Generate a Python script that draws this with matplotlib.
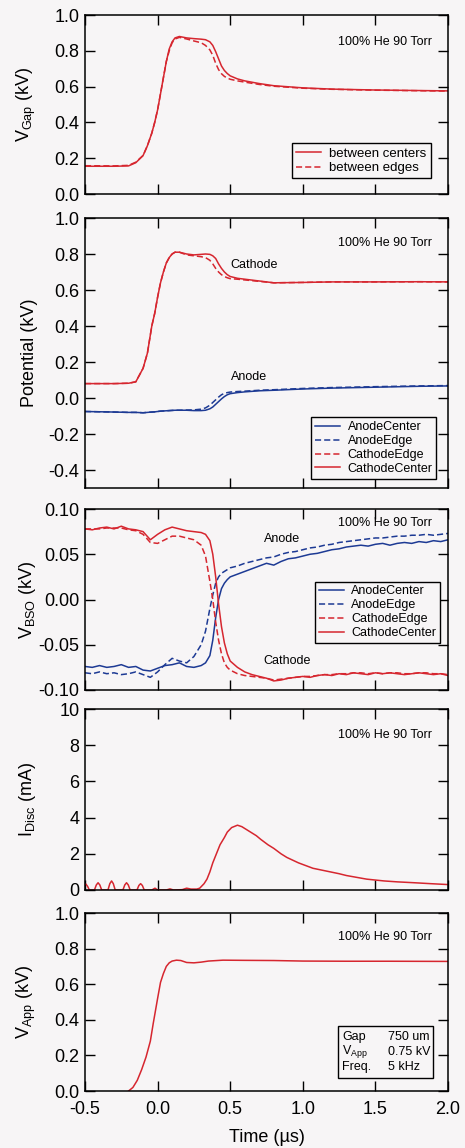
import matplotlib
matplotlib.use("Agg")
import matplotlib.pyplot as plt
from matplotlib.patches import Rectangle

plt.rcParams['font.family'] = ['Liberation Sans', 'DejaVu Sans']
plt.rcParams['mathtext.fontset'] = 'custom'
plt.rcParams['mathtext.rm'] = 'Liberation Sans'
plt.rcParams['mathtext.it'] = 'Liberation Sans'
plt.rcParams['mathtext.default'] = 'regular'
plt.rcParams['axes.unicode_minus'] = False

RED = '#d6262f'
BLUE = '#1d3a94'
BG = '#f7f5f6'

# ---- panel 1 / 2 shared time grid (us)
t_gap = [-0.5, -0.3, -0.2, -0.15, -0.1, -0.07, -0.04, -0.02, 0.0, 0.02, 0.04, 0.06,
         0.08, 0.1, 0.12, 0.15, 0.2, 0.25, 0.3, 0.33, 0.36, 0.38, 0.4, 0.42, 0.44,
         0.46, 0.48, 0.5, 0.55, 0.6, 0.7, 0.8, 1.0, 1.2, 1.5, 1.8, 2.0]
gap_center = [0.155, 0.155, 0.157, 0.175, 0.215, 0.27, 0.34, 0.40, 0.47, 0.56, 0.65, 0.74,
              0.81, 0.85, 0.872, 0.88, 0.872, 0.868, 0.865, 0.862, 0.85, 0.83, 0.795, 0.755,
              0.715, 0.69, 0.673, 0.66, 0.643, 0.632, 0.617, 0.605, 0.593, 0.586, 0.581,
              0.578, 0.576]
gap_edge = [0.158, 0.157, 0.16, 0.178, 0.215, 0.27, 0.34, 0.40, 0.47, 0.56, 0.65, 0.74,
            0.80, 0.845, 0.866, 0.875, 0.866, 0.855, 0.845, 0.83, 0.805, 0.775, 0.73, 0.695,
            0.672, 0.657, 0.648, 0.641, 0.632, 0.625, 0.612, 0.602, 0.591, 0.585, 0.58,
            0.577, 0.575]

cath_center = [0.08, 0.08, 0.082, 0.09, 0.165, 0.25, 0.40, 0.47, 0.56, 0.64, 0.70, 0.75,
               0.78, 0.80, 0.81, 0.81, 0.80, 0.795, 0.798, 0.80, 0.798, 0.79, 0.775, 0.745,
               0.72, 0.70, 0.685, 0.675, 0.665, 0.66, 0.65, 0.64, 0.642, 0.645, 0.645,
               0.646, 0.645]
cath_edge = [0.08, 0.08, 0.082, 0.09, 0.165, 0.25, 0.40, 0.47, 0.56, 0.64, 0.70, 0.75,
             0.78, 0.80, 0.81, 0.81, 0.795, 0.79, 0.785, 0.78, 0.765, 0.745, 0.72, 0.70,
             0.685, 0.675, 0.668, 0.663, 0.66, 0.656, 0.648, 0.64, 0.642, 0.645, 0.645,
             0.646, 0.645]
anode_center = [-0.075, -0.078, -0.08, -0.08, -0.082, -0.08, -0.078, -0.077, -0.075, -0.073,
                -0.072, -0.071, -0.07, -0.069, -0.068, -0.068, -0.068, -0.07, -0.07, -0.068,
                -0.06, -0.05, -0.035, -0.02, -0.005, 0.008, 0.018, 0.024, 0.03, 0.034, 0.04,
                0.043, 0.05, 0.055, 0.06, 0.065, 0.067]
anode_edge = [-0.075, -0.078, -0.08, -0.08, -0.082, -0.08, -0.078, -0.077, -0.075, -0.073,
              -0.072, -0.071, -0.07, -0.069, -0.068, -0.068, -0.067, -0.066, -0.062, -0.055,
              -0.04, -0.025, -0.01, 0.005, 0.018, 0.026, 0.03, 0.033, 0.036, 0.038, 0.043,
              0.046, 0.053, 0.058, 0.063, 0.067, 0.069]

# ---- panel 3: V_BSO
t_bso = [-0.5, -0.45, -0.4, -0.35, -0.3, -0.25, -0.2, -0.15, -0.1, -0.05, 0.0, 0.05, 0.1,
         0.15, 0.2, 0.25, 0.3, 0.33, 0.36, 0.38, 0.4, 0.42, 0.44, 0.46, 0.48, 0.5, 0.55,
         0.6, 0.65, 0.7, 0.75, 0.8, 0.85, 0.9, 0.95, 1.0, 1.05, 1.1, 1.15, 1.2, 1.25, 1.3,
         1.35, 1.4, 1.45, 1.5, 1.55, 1.6, 1.65, 1.7, 1.75, 1.8, 1.85, 1.9, 1.95, 2.0]
bso_anode_center = [-0.074, -0.075, -0.073, -0.075, -0.074, -0.072, -0.075, -0.074, -0.078,
                    -0.079, -0.076, -0.073, -0.072, -0.070, -0.074, -0.075, -0.073, -0.070,
                    -0.062, -0.045, -0.020, 0.000, 0.012, 0.018, 0.022, 0.025, 0.028, 0.031,
                    0.034, 0.037, 0.040, 0.038, 0.042, 0.045, 0.046, 0.048, 0.050, 0.051,
                    0.053, 0.055, 0.056, 0.058, 0.059, 0.060, 0.059, 0.061, 0.062, 0.060,
                    0.062, 0.063, 0.062, 0.064, 0.063, 0.065, 0.064, 0.066]
bso_anode_edge = [-0.081, -0.082, -0.080, -0.082, -0.081, -0.083, -0.082, -0.080, -0.083,
                  -0.086, -0.080, -0.072, -0.065, -0.068, -0.070, -0.063, -0.050, -0.035,
                  -0.010, 0.005, 0.018, 0.025, 0.029, 0.031, 0.033, 0.035, 0.037, 0.040,
                  0.042, 0.044, 0.046, 0.047, 0.050, 0.052, 0.053, 0.055, 0.057, 0.058,
                  0.060, 0.061, 0.063, 0.064, 0.065, 0.066, 0.067, 0.068, 0.068, 0.069,
                  0.070, 0.070, 0.071, 0.071, 0.072, 0.071, 0.072, 0.073]
bso_cath_edge = [0.078, 0.078, 0.078, 0.079, 0.079, 0.079, 0.077, 0.076, 0.072, 0.063,
                 0.062, 0.066, 0.070, 0.070, 0.068, 0.066, 0.060, 0.048, 0.020, 0.000,
                 -0.025, -0.045, -0.060, -0.070, -0.075, -0.078, -0.082, -0.084, -0.085,
                 -0.086, -0.087, -0.089, -0.088, -0.087, -0.086, -0.085, -0.085, -0.084,
                 -0.083, -0.083, -0.082, -0.082, -0.081, -0.081, -0.082, -0.081, -0.082,
                 -0.081, -0.081, -0.082, -0.082, -0.081, -0.081, -0.082, -0.082, -0.083]
bso_cath_center = [0.078, 0.077, 0.079, 0.080, 0.078, 0.081, 0.078, 0.077, 0.075, 0.066,
                   0.072, 0.077, 0.080, 0.078, 0.076, 0.075, 0.074, 0.072, 0.065, 0.050,
                   0.025, -0.005, -0.030, -0.048, -0.060, -0.068, -0.075, -0.080, -0.083,
                   -0.085, -0.087, -0.090, -0.089, -0.087, -0.086, -0.085, -0.086, -0.084,
                   -0.083, -0.084, -0.082, -0.083, -0.081, -0.082, -0.083, -0.081, -0.082,
                   -0.081, -0.082, -0.083, -0.082, -0.081, -0.082, -0.083, -0.082, -0.084]

# ---- panel 4: discharge current (mA)
t_disc = [-0.5, -0.494, -0.482, -0.47, -0.435, -0.422, -0.41, -0.398, -0.385, -0.342,
          -0.329, -0.317, -0.305, -0.292, -0.239, -0.226, -0.214, -0.202, -0.189, -0.142,
          -0.129, -0.117, -0.105, -0.092, -0.04, -0.018, 0.0, 0.06, 0.085, 0.11, 0.17,
          0.2, 0.23, 0.27, 0.29, 0.32, 0.34, 0.36, 0.38, 0.41, 0.43, 0.46, 0.48, 0.51,
          0.55, 0.58, 0.61, 0.64, 0.68, 0.71, 0.76, 0.80, 0.85, 0.89, 0.93, 0.97, 1.02,
          1.07, 1.13, 1.19, 1.25, 1.30, 1.37, 1.44, 1.50, 1.56, 1.65, 1.77, 1.88, 2.0]
i_disc = [0.3, 0.33, 0.2, 0.0, 0.0, 0.28, 0.4, 0.28, 0.0, 0.0,
          0.35, 0.5, 0.35, 0.0, 0.0, 0.28, 0.4, 0.28, 0.0, 0.0,
          0.25, 0.35, 0.25, 0.0, 0.0, 0.1, 0.0, 0.0, 0.06, 0.0, 0.02,
          0.1, 0.05, 0.05, 0.1, 0.35, 0.6, 1.0, 1.5, 2.1, 2.5, 2.9, 3.2, 3.45,
          3.58, 3.5, 3.35, 3.2, 3.0, 2.8, 2.5, 2.3, 2.0, 1.8, 1.65, 1.5, 1.35,
          1.2, 1.1, 1.0, 0.9, 0.8, 0.7, 0.6, 0.55, 0.5, 0.45, 0.4, 0.35, 0.3]

# ---- panel 5: applied voltage (kV)
t_app = [-0.2, -0.17, -0.14, -0.11, -0.08, -0.05, -0.03, 0.0, 0.02, 0.04, 0.06, 0.08,
         0.1, 0.13, 0.16, 0.2, 0.25, 0.3, 0.35, 0.45, 0.6, 0.8, 1.0, 1.3, 1.6, 2.0]
v_app = [0.0, 0.02, 0.06, 0.12, 0.19, 0.28, 0.38, 0.52, 0.61, 0.66, 0.70, 0.72,
         0.73, 0.735, 0.733, 0.722, 0.72, 0.724, 0.73, 0.735, 0.734, 0.733, 0.73,
         0.729, 0.729, 0.728]

x_ticks = [-0.5, 0.0, 0.5, 1.0, 1.5, 2.0]
condition = '100% He 90 Torr'

fig = plt.figure(figsize=(4.65, 11.48), dpi=100, facecolor=BG)
W, H = 465.0, 1148.0
left, right = 85, 448


def make_axes(top, bottom, cond_y):
    ax = fig.add_axes([left / W, 1 - bottom / H, (right - left) / W, (bottom - top) / H])
    ax.set_facecolor(BG)
    ax.set_xlim(-0.5, 2.0)
    ax.set_xticks(x_ticks)
    ax.tick_params(direction='in', top=True, right=True, length=7, width=1,
                   labelsize=13, pad=4)
    ax.tick_params(axis='x', labelbottom=False, pad=7)
    for s in ax.spines.values():
        s.set_linewidth(1.1)
    ax.yaxis.set_label_coords(-0.13, 0.5)
    ax.text(0.955, cond_y, condition, transform=ax.transAxes, ha='right', va='center',
            fontsize=9)
    return ax


def style_legend(leg):
    fr = leg.get_frame()
    fr.set_edgecolor('black')
    fr.set_linewidth(1.0)
    fr.set_facecolor(BG)
    fr.set_alpha(1)


lw = 1.1
dash = (0, (4, 2))

# panel 1
ax1 = make_axes(15, 194, 0.85)
ax1.plot(t_gap, gap_center, color=RED, lw=lw, label='between centers')
ax1.plot(t_gap, gap_edge, color=RED, lw=lw, ls=dash, label='between edges')
ax1.set_ylim(0, 1.0)
ax1.set_yticks([0.0, 0.2, 0.4, 0.6, 0.8, 1.0])
ax1.set_yticklabels(['0.0', '0.2', '0.4', '0.6', '0.8', '1.0'])
ax1.set_ylabel('$V_{Gap}$ (kV)', fontsize=13)
style_legend(ax1.legend(loc='lower right', fontsize=9.5, fancybox=False, handlelength=1.9,
                        borderpad=0.3, labelspacing=0.2, handletextpad=0.6,
                        bbox_to_anchor=(0.97, 0.05)))

# panel 2
ax2 = make_axes(218, 488, 0.907)
ax2.plot(t_gap, anode_center, color=BLUE, lw=lw, label='AnodeCenter')
ax2.plot(t_gap, anode_edge, color=BLUE, lw=lw, ls=dash, label='AnodeEdge')
ax2.plot(t_gap, cath_edge, color=RED, lw=lw, ls=dash, label='CathodeEdge')
ax2.plot(t_gap, cath_center, color=RED, lw=lw, label='CathodeCenter')
ax2.set_ylim(-0.5, 1.0)
ax2.set_yticks([-0.4, -0.2, 0.0, 0.2, 0.4, 0.6, 0.8, 1.0])
ax2.set_yticklabels(['-0.4', '-0.2', '0.0', '0.2', '0.4', '0.6', '0.8', '1.0'])
ax2.set_ylabel('Potential (kV)', fontsize=13)
ax2.text(0.50, 0.74, 'Cathode', fontsize=9, ha='left', va='center')
ax2.text(0.505, 0.115, 'Anode', fontsize=9, ha='left', va='center')
style_legend(ax2.legend(loc='lower right', fontsize=9, fancybox=False, handlelength=2.0,
                        borderpad=0.3, labelspacing=0.15, handletextpad=0.6,
                        bbox_to_anchor=(0.985, 0.012)))

# panel 3
ax3 = make_axes(509, 690, 0.92)
ax3.plot(t_bso, bso_anode_center, color=BLUE, lw=lw, label='AnodeCenter')
ax3.plot(t_bso, bso_anode_edge, color=BLUE, lw=lw, ls=dash, label='AnodeEdge')
ax3.plot(t_bso, bso_cath_edge, color=RED, lw=lw, ls=dash, label='CathodeEdge')
ax3.plot(t_bso, bso_cath_center, color=RED, lw=lw, label='CathodeCenter')
ax3.set_ylim(-0.1, 0.1)
ax3.set_yticks([-0.10, -0.05, 0.0, 0.05, 0.10])
ax3.set_yticklabels(['-0.10', '-0.05', '0.00', '0.05', '0.10'])
ax3.set_ylabel('$V_{BSO}$ (kV)', fontsize=13)
ax3.text(0.73, 0.067, 'Anode', fontsize=9, ha='left', va='center')
ax3.text(0.73, -0.068, 'Cathode', fontsize=9, ha='left', va='center')
style_legend(ax3.legend(loc='center right', fontsize=9, fancybox=False, handlelength=2.0,
                        borderpad=0.3, labelspacing=0.15, handletextpad=0.6,
                        bbox_to_anchor=(0.995, 0.43)))

# panel 4
ax4 = make_axes(709, 890, 0.856)
ax4.plot(t_disc, i_disc, color=RED, lw=lw)
ax4.set_ylim(0, 10)
ax4.set_yticks([0, 2, 4, 6, 8, 10])
ax4.set_ylabel('$I_{Disc}$ (mA)', fontsize=13)

# panel 5
ax5 = make_axes(913, 1091, 0.865)
ax5.plot(t_app, v_app, color=RED, lw=lw)
ax5.set_ylim(0, 1.0)
ax5.set_yticks([0.0, 0.2, 0.4, 0.6, 0.8, 1.0])
ax5.set_yticklabels(['0.0', '0.2', '0.4', '0.6', '0.8', '1.0'])
ax5.set_ylabel('$V_{App}$ (kV)', fontsize=13)
ax5.tick_params(axis='x', labelbottom=True)
ax5.set_xticklabels(['-0.5', '0.0', '0.5', '1.0', '1.5', '2.0'])
ax5.set_xlabel('Time (µs)', fontsize=13, labelpad=8)
ax5.add_patch(Rectangle((0.697, 0.073), 0.262, 0.292, transform=ax5.transAxes,
                        facecolor=BG, edgecolor='black', lw=1.0, zorder=5))
info_left = ['Gap', '$V_{App}$', 'Freq.']
info_right = ['750 um', '0.75 kV', '5 kHz']
for i, (a, b) in enumerate(zip(info_left, info_right)):
    y = 0.305 - i * 0.085
    ax5.text(0.708, y, a, transform=ax5.transAxes, fontsize=9, va='center', zorder=6)
    ax5.text(0.835, y, b, transform=ax5.transAxes, fontsize=9, va='center', zorder=6)

fig.savefig('out.png', dpi=100, facecolor=BG)
